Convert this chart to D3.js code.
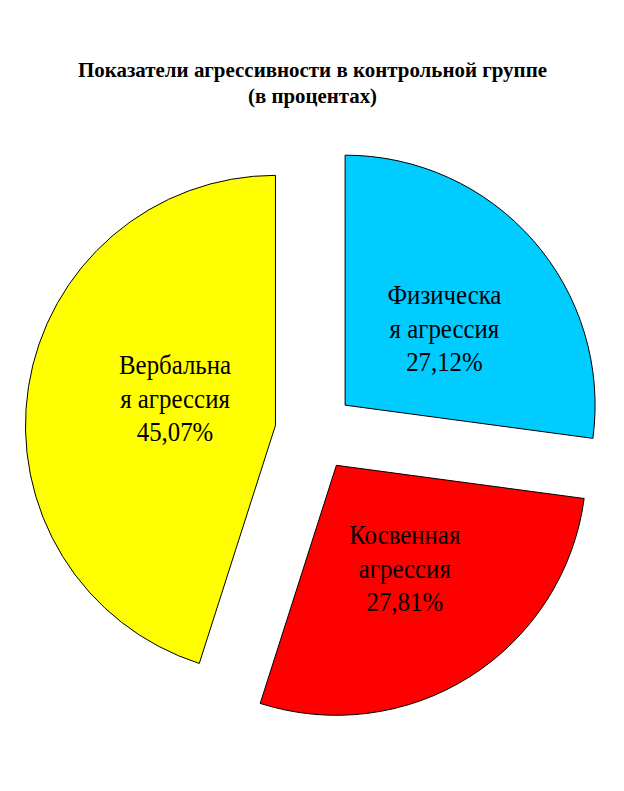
<!DOCTYPE html>
<html><head><meta charset="utf-8">
<script src="https://cdn.jsdelivr.net/npm/d3@7"></script>
<style>html,body{margin:0;padding:0;background:#fff}</style>
</head><body>
<svg id="chart" width="624" height="791"></svg>
<script>
// ---- data ----
const categories = ["Физическая агрессия", "Косвенная агрессия", "Вербальная агрессия"];
const labelLines = [["Физическа", "я агрессия"], ["Косвенная", "агрессия"], ["Вербальна", "я агрессия"]];
const values = [27.12, 27.81, 45.07];
const valueLabels = ["27,12%", "27,81%", "45,07%"];
const colors = ["#00CCFF", "#FF0000", "#FFFF00"];
const titleLines = ["Показатели агрессивности в контрольной группе", "(в процентах)"];

// ---- layout ----
const W = 624, H = 791;
const cx = 315, cy = 431.5, R = 250, explode = 40;
const labelR = 128;
const labelNudge = [[3, 7], [0, -5.5], [26, -7.6]];
const lineH = 33.5;
const labelFont = 27;
const widthScale = 0.92;

const svg = d3.select("#chart");
svg.append("rect").attr("width", W).attr("height", H).attr("fill", "#fff");

// title
const titleWidths = [469, 129];
svg.selectAll("text.title").data(titleLines).join("text")
  .attr("class", "title")
  .attr("x", 312.5).attr("y", (d, i) => 77 + i * 25.5)
  .attr("text-anchor", "middle")
  .attr("font-family", "'Liberation Serif', 'Times New Roman', serif")
  .attr("font-weight", "bold").attr("font-size", 22)
  .attr("textLength", (d, i) => titleWidths[i])
  .attr("lengthAdjust", "spacingAndGlyphs")
  .text(d => d);

const pie = d3.pie().sort(null).value(d => d)(values);
const arc = d3.arc().innerRadius(0).outerRadius(R);

const g = svg.append("g").attr("transform", `translate(${cx},${cy})`);
const slices = g.selectAll("g.slice").data(pie).join("g")
  .attr("class", "slice")
  .attr("transform", d => {
    const m = (d.startAngle + d.endAngle) / 2;
    return `translate(${explode * Math.sin(m)},${-explode * Math.cos(m)})`;
  });
slices.append("path").attr("d", arc)
  .attr("fill", (d, i) => colors[i])
  .attr("stroke", "#000").attr("stroke-width", 1).attr("stroke-linejoin", "round");

slices.each(function (d, i) {
  const m = (d.startAngle + d.endAngle) / 2;
  const lx = labelR * Math.sin(m) + labelNudge[i][0];
  const ly = -labelR * Math.cos(m) + labelNudge[i][1];
  const lines = labelLines[i].concat([valueLabels[i]]);
  const t = d3.select(this).append("g").attr("transform", `translate(${lx},${ly})`);
  lines.forEach((s, k) => {
    t.append("text")
      .attr("x", 0).attr("y", (k - 1) * lineH + 10)
      .attr("text-anchor", "middle")
      .attr("font-family", "'Liberation Serif', 'Times New Roman', serif")
      .attr("font-size", labelFont)
      .attr("fill", "#000")
      .attr("transform", `scale(${widthScale},1)`)
      .text(s);
  });
});
</script>
</body></html>
